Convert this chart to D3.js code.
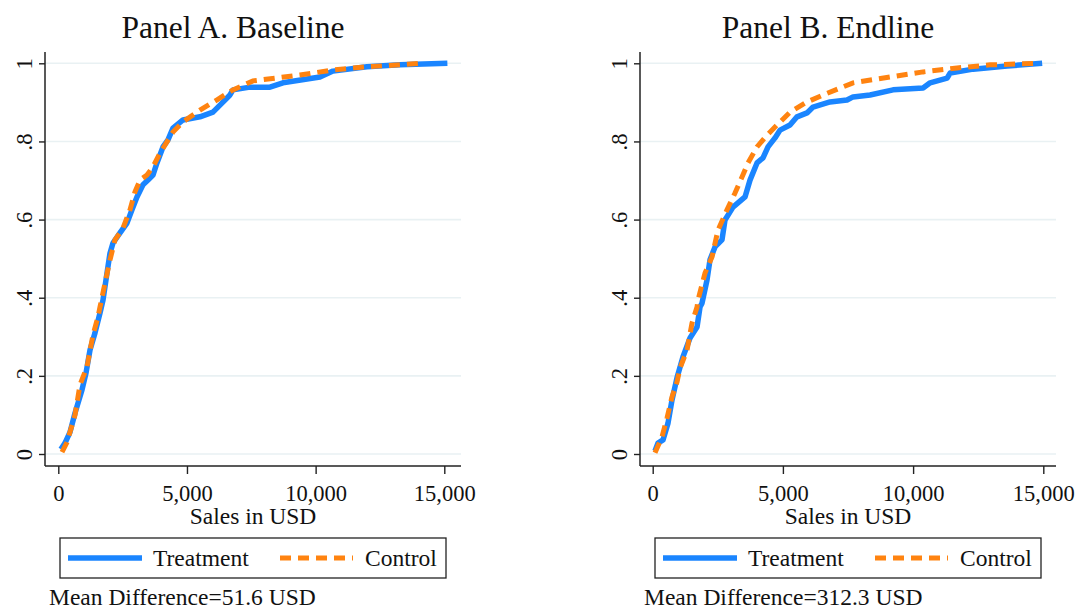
<!DOCTYPE html>
<html>
<head>
<meta charset="utf-8">
<script src="https://cdn.jsdelivr.net/npm/d3@7"></script>
<style>
  html, body { margin: 0; padding: 0; background: #fff; }
  svg { display: block; }
  text { font-family: "Liberation Serif", "Times New Roman", serif; fill: #111; }
</style>
</head>
<body>
<svg id="chart" width="1078" height="610"></svg>
<script>
// ---------- Data ----------
const panelTitles = ["Panel A. Baseline", "Panel B. Endline"];
const seriesNames = ["Treatment", "Control"];
const meanDiffLabels = ["Mean Difference=51.6 USD", "Mean Difference=312.3 USD"];
const xTicks = [0, 5000, 10000, 15000];
const yTicks = [0, 0.2, 0.4, 0.6, 0.8, 1];
const yTickLabels = ["0", ".2", ".4", ".6", ".8", "1"];
const xAxisTitle = "Sales in USD";

// Panel A - Baseline : [sales, cumulative share]
const baselineTreatment = [
  [100,0.012],[260,0.028],[455,0.056],[650,0.105],[920,0.164],[1076,0.207],[1232,0.266],
  [1426,0.31],[1620,0.361],[1737,0.394],[1892,0.463],[2009,0.514],[2125,0.54],[2397,0.566],
  [2669,0.591],[2863,0.625],[3057,0.658],[3291,0.689],[3485,0.701],[3679,0.714],[3834,0.745],
  [4068,0.786],[4262,0.804],[4456,0.834],[4845,0.855],[5505,0.863],[6010,0.875],[6282,0.893],
  [6671,0.919],[6787,0.932],[7447,0.939],[8224,0.939],[8729,0.95],[10167,0.965],[10672,0.98],
  [11993,0.991],[13275,0.996],[15120,1.0]
];
const baselineControl = [
  [144,0.005],[338,0.03],[650,0.1],[843,0.177],[1115,0.223],[1348,0.305],[1543,0.351],
  [1620,0.376],[1814,0.437],[2009,0.497],[2203,0.548],[2514,0.578],[2786,0.625],[2980,0.671],
  [3174,0.701],[3446,0.714],[3679,0.735],[3951,0.77],[4223,0.799],[4456,0.824],[4845,0.85],
  [5505,0.88],[6153,0.906],[6787,0.932],[7564,0.955],[9389,0.97],[10672,0.983],[11993,0.991],
  [14170,1.0]
];
// Panel B - Endline
const endlineTreatment = [
  [88,0.008],[204,0.028],[396,0.036],[588,0.079],[741,0.138],[933,0.195],[1164,0.249],
  [1433,0.297],[1702,0.325],[1817,0.376],[1894,0.386],[2085,0.445],[2200,0.497],[2392,0.53],
  [2661,0.548],[2776,0.599],[3084,0.632],[3545,0.658],[3737,0.701],[4006,0.745],[4236,0.758],
  [4428,0.786],[4697,0.809],[4889,0.829],[5273,0.842],[5542,0.863],[5926,0.873],[6157,0.888],
  [6810,0.901],[7463,0.906],[7694,0.914],[8347,0.919],[9231,0.932],[10384,0.937],[10653,0.95],
  [11306,0.962],[11421,0.975],[12305,0.985],[13612,0.993],[14956,1.0]
];
const endlineControl = [
  [88,0.003],[357,0.044],[549,0.092],[741,0.146],[933,0.184],[1049,0.22],[1318,0.266],
  [1510,0.335],[1702,0.376],[1740,0.394],[2009,0.463],[2277,0.504],[2507,0.573],[2853,0.625],
  [3161,0.668],[3430,0.709],[3660,0.745],[4006,0.786],[4390,0.816],[4774,0.842],[5273,0.875],
  [5926,0.901],[6541,0.919],[7694,0.95],[9116,0.965],[10384,0.978],[11690,0.988],[12958,0.996],
  [14878,1.0]
];

// ---------- Styles / layout ----------
const colors = { Treatment: "#1a85ff", Control: "#ff8310" };
const gridColor = "#e9f1f3";
const layouts = [
  { left: 45, right: 461, x0: 58.3, x1: 444.3, titleX: 233, legendX: 60, noteX: 49,
    treat: baselineTreatment, ctrl: baselineControl },
  { left: 640, right: 1056, x0: 652.7, x1: 1043.3, titleX: 828, legendX: 655, noteX: 644,
    treat: endlineTreatment, ctrl: endlineControl }
];
const plotTop = 52, plotBottom = 466, y0px = 454, y1px = 63.3;

const svg = d3.select("#chart");

layouts.forEach((L, i) => {
  const g = svg.append("g");
  const x = d3.scaleLinear().domain([0, 15000]).range([L.x0, L.x1]);
  const y = d3.scaleLinear().domain([0, 1]).range([y0px, y1px]);

  // title
  g.append("text").attr("x", L.titleX).attr("y", 38)
    .attr("text-anchor", "middle").attr("font-size", 31.5).text(panelTitles[i]);

  // gridlines
  g.selectAll(".grid").data(yTicks).enter().append("line")
    .attr("x1", L.left).attr("x2", L.right)
    .attr("y1", d => y(d)).attr("y2", d => y(d))
    .attr("stroke", gridColor).attr("stroke-width", 1.6);

  // y axis
  const yAxis = d3.axisLeft(y).tickValues(yTicks).tickSize(6)
    .tickFormat((d, k) => yTickLabels[k]);
  const ya = g.append("g").attr("transform", `translate(${L.left},0)`).call(yAxis);
  ya.select(".domain").remove();
  ya.selectAll(".tick line").attr("stroke", "#222").attr("stroke-width", 1.4);
  ya.selectAll(".tick text")
    .attr("font-family", "Liberation Serif, serif").attr("font-size", 22.5).attr("fill", "#111")
    .attr("text-anchor", "middle").attr("x", null).attr("dy", null)
    .attr("transform", `translate(-13,0) rotate(-90)`);
  g.append("line").attr("x1", L.left).attr("x2", L.left)
    .attr("y1", plotTop).attr("y2", plotBottom)
    .attr("stroke", "#222").attr("stroke-width", 1.5);

  // x axis
  const xAxis = d3.axisBottom(x).tickValues(xTicks).tickSize(8)
    .tickFormat(d3.format(","));
  const xa = g.append("g").attr("transform", `translate(0,${plotBottom})`).call(xAxis);
  xa.select(".domain").remove();
  xa.selectAll(".tick line").attr("stroke", "#222").attr("stroke-width", 1.4);
  xa.selectAll(".tick text")
    .attr("font-family", "Liberation Serif, serif").attr("font-size", 22.5).attr("fill", "#111")
    .attr("y", 35).attr("dy", null);
  g.append("line").attr("x1", L.left).attr("x2", L.right)
    .attr("y1", plotBottom).attr("y2", plotBottom)
    .attr("stroke", "#222").attr("stroke-width", 1.5);

  // axis title
  g.append("text").attr("x", (L.left + L.right) / 2).attr("y", 524)
    .attr("text-anchor", "middle").attr("font-size", 23.5).text(xAxisTitle);

  // curves
  const line = d3.line().x(d => x(d[0])).y(d => y(d[1])).curve(d3.curveLinear);
  g.append("path").datum(L.treat).attr("d", line)
    .attr("fill", "none").attr("stroke", colors.Treatment).attr("stroke-width", 5.5)
    .attr("stroke-linejoin", "round");
  g.append("path").datum(L.ctrl).attr("d", line)
    .attr("fill", "none").attr("stroke", colors.Control).attr("stroke-width", 5)
    .attr("stroke-dasharray", "11,7");

  // legend
  const lg = g.append("g").attr("transform", `translate(${L.legendX},538)`);
  lg.append("rect").attr("x", 0).attr("y", 0).attr("width", 386).attr("height", 40)
    .attr("fill", "#fff").attr("stroke", "#222").attr("stroke-width", 1.3);
  lg.append("line").attr("x1", 8).attr("x2", 82).attr("y1", 20).attr("y2", 20)
    .attr("stroke", colors.Treatment).attr("stroke-width", 5.5);
  lg.append("text").attr("x", 93).attr("y", 28).attr("font-size", 23.5).text(seriesNames[0]);
  lg.append("line").attr("x1", 220).attr("x2", 293).attr("y1", 20).attr("y2", 20)
    .attr("stroke", colors.Control).attr("stroke-width", 5).attr("stroke-dasharray", "11,7");
  lg.append("text").attr("x", 305).attr("y", 28).attr("font-size", 23.5).text(seriesNames[1]);

  // note
  g.append("text").attr("x", L.noteX).attr("y", 605).attr("font-size", 23.5).text(meanDiffLabels[i]);
});
</script>
</body>
</html>
